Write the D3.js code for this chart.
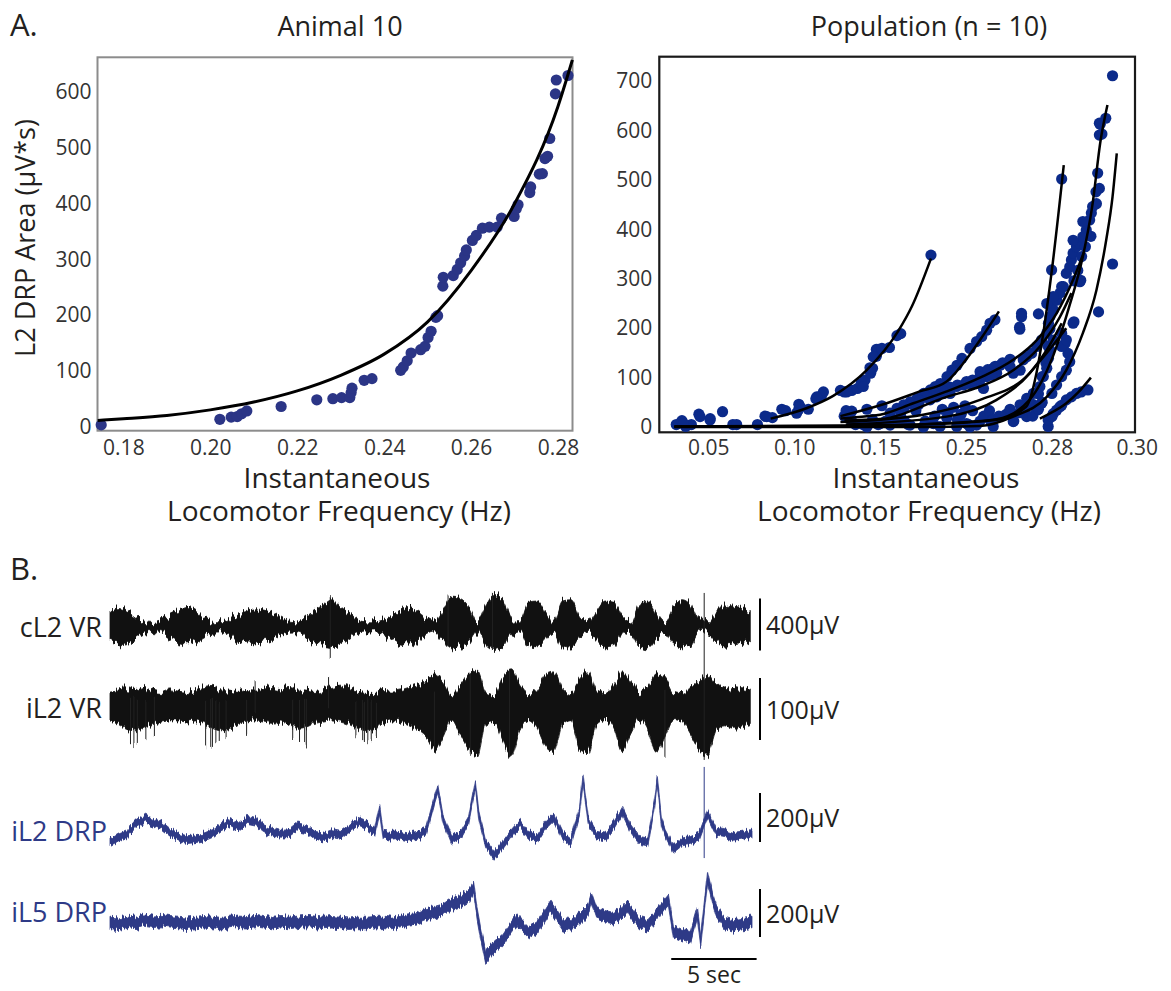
<!DOCTYPE html>
<html>
<head>
<meta charset="utf-8">
<script src="https://cdn.jsdelivr.net/npm/d3@7"></script>
<style>
body { margin: 0; background: #fff; }
svg { display: block; font-family: "Open Sans", "Noto Sans", sans-serif; }
</style>
</head>
<body>
<svg id="fig" width="1171" height="991">
  <defs>
    <filter id="noisyVr" x="-2%" y="-40%" width="104%" height="180%" color-interpolation-filters="sRGB">
      <feTurbulence type="fractalNoise" baseFrequency="0.5 0.015" numOctaves="2" seed="4" result="n"/>
      <feColorMatrix in="n" type="matrix" values="0 0 0 0 0.5  0 1 0 0 0  0 0 0 0 0  0 0 0 0 1" result="m"/>
      <feDisplacementMap in="SourceGraphic" in2="m" scale="16" xChannelSelector="R" yChannelSelector="G"/>
    </filter>
    <filter id="noisyDrp" x="-2%" y="-40%" width="104%" height="180%" color-interpolation-filters="sRGB">
      <feTurbulence type="fractalNoise" baseFrequency="0.6 0.02" numOctaves="2" seed="9" result="n"/>
      <feColorMatrix in="n" type="matrix" values="0 0 0 0 0.5  0 1 0 0 0  0 0 0 0 0  0 0 0 0 1" result="m"/>
      <feDisplacementMap in="SourceGraphic" in2="m" scale="10" xChannelSelector="R" yChannelSelector="G"/>
    </filter>
  </defs>
</svg>
<script>
// ---------- Panel A, left: Animal 10 ----------
const animal10Freq = [0.1749,0.2022,0.2048,0.2062,0.2072,0.2084,0.2163,0.2245,0.2282,0.2302,0.2321,0.2324,0.2326,0.2354,0.2372,0.2438,0.2444,0.2453,0.2462,0.2484,0.2494,0.2501,0.2508,0.2519,0.2523,0.2535,0.2536,0.2559,0.2568,0.2576,0.2585,0.2589,0.2603,0.2612,0.2626,0.2642,0.2660,0.2670,0.2699,0.2704,0.2708,0.2735,0.2737,0.2757,0.2764,0.2770,0.2776,0.2781,0.2794,0.2796,0.2823];
const animal10Area = [3,13,17,18,23,28,36,48,50,52,52,61,69,83,86,101,107,118,132,138,144,160,171,196,199,252,268,271,282,294,306,317,334,343,356,358,358,374,377,391,398,420,430,453,454,481,485,517,597,622,630];
const animal10FitFreq = [0.1741,0.18,0.19,0.20,0.21,0.22,0.23,0.24,0.25,0.26,0.27,0.28,0.2833];
const animal10FitArea = [11,14,20,30,44,64,92,130,188,280,400,575,658];
const leftXTicks = [0.18,0.20,0.22,0.24,0.26,0.28];
const leftYTicks = [0,100,200,300,400,500,600];

// ---------- Panel A, right: Population ----------
const popPts1 = [[0.083,22],[0.0873,19],[0.0928,36],[0.095,33],[0.1027,46],[0.1027,36],[0.1082,36],[0.1126,57],[0.1159,64],[0.117,71],[0.1269,74],[0.1291,71],[0.1335,74],[0.1368,78],[0.139,88],[0.1412,95],[0.1445,109],[0.1456,119],[0.1478,143],[0.1478,157],[0.1489,157],[0.1521,159],[0.1609,161],[0.1696,185],[0.174,189],[0.2092,348],[0.146,142],[0.1441,120],[0.1402,82],[0.1306,71],[0.1131,61],[0.1034,41],[0.1014,28],[0.084,21]];
const popFit1 = [[0.0863,17],[0.1071,38],[0.1227,63],[0.1422,115],[0.171,194],[0.1872,245],[0.2092,341]];
const popPts2 = [[0.0313,5],[0.0346,13],[0.0368,1],[0.0401,5],[0.0445,26],[0.0511,17],[0.0583,31],[0.0643,5],[0.0665,5],[0.0786,5],[0.051,14],[0.0452,21],[0.0355,7],[0.2733,46],[0.2753,67],[0.2766,102],[0.2779,130],[0.2786,164],[0.2793,199],[0.2799,254],[0.2799,318],[0.2823,502]];
const popFit2 = [[0.0302,1],[0.1071,2],[0.196,5],[0.2602,14],[0.271,41],[0.2746,109],[0.277,190],[0.28,318],[0.2828,530]];
const popPts3 = [[0.2834,311],[0.2842,324],[0.2846,338],[0.285,352],[0.2858,365],[0.2865,372],[0.2873,385],[0.2881,399],[0.2889,419],[0.2893,433],[0.2896,446],[0.2904,476],[0.2908,514],[0.2912,591],[0.2912,615],[0.2927,625],[0.2823,284],[0.2811,257],[0.2803,237],[0.2852,296],[0.2861,317],[0.287,345],[0.2879,365],[0.2892,386],[0.2905,452],[0.2912,483],[0.2918,593],[0.2914,613],[0.285,378],[0.2873,416],[0.2881,392]];
const popFit3 = [[0.0302,1],[0.15,3],[0.23,8],[0.2607,16],[0.2722,55],[0.2802,142],[0.2841,244],[0.2873,345],[0.2895,446],[0.2915,581],[0.2931,652]];
const popPts4 = [[0.2584,210],[0.2601,217],[0.2572,196],[0.2555,183],[0.2537,173],[0.2514,159],[0.2453,139],[0.2395,125],[0.2337,115],[0.2279,102],[0.2201,88],[0.2143,82],[0.2085,75],[0.2008,68],[0.193,58],[0.1852,51],[0.1775,45],[0.1697,38],[0.1335,32],[0.1423,36],[0.1521,43]];
const popFit4 = [[0.1269,22],[0.152,45],[0.196,72],[0.2275,92],[0.2468,129],[0.2549,176],[0.2615,234]];
const popPts5 = [[0.2082,55],[0.216,61],[0.2237,68],[0.2276,75],[0.2392,82],[0.247,85],[0.2502,92],[0.2514,88],[0.2526,92],[0.2537,88],[0.2572,102],[0.2584,115],[0.2595,119],[0.2619,125],[0.2642,129],[0.2654,122],[0.2665,109],[0.2689,115],[0.27,136],[0.2712,142],[0.2729,149],[0.2747,163],[0.2764,176],[0.2782,190],[0.2788,210],[0.2793,223],[0.2803,237],[0.2811,257],[0.2819,271],[0.2827,284]];
const popFit5 = [[0.1269,17],[0.1423,22],[0.15,25],[0.1886,48],[0.2275,72],[0.2549,100],[0.2665,136],[0.2747,176],[0.2811,230],[0.285,298],[0.2876,355]];
const popPts6 = [[0.1946,45],[0.1733,34],[0.1616,28],[0.2315,68],[0.2549,95],[0.2607,109],[0.2549,112],[0.2561,78],[0.2576,116],[0.2602,123],[0.2628,130],[0.2654,137],[0.2589,105],[0.2549,102],[0.2523,95],[0.2496,88],[0.24,85],[0.2312,81],[0.2224,74],[0.2136,67],[0.2048,60],[0.196,53],[0.1872,46],[0.1784,40]];
const popFit6 = [[0.1292,13],[0.15,16],[0.2275,61],[0.2549,82],[0.2665,115],[0.2758,163],[0.2819,223],[0.2846,271]];
const popPts7 = [[0.15,7],[0.1616,4],[0.1733,11],[0.1849,4],[0.2004,0],[0.2121,7],[0.2276,18],[0.2392,1],[0.2502,7],[0.2537,4],[0.2584,14],[0.2619,21],[0.2654,34],[0.2689,45],[0.2712,58],[0.2735,68],[0.2758,82],[0.277,102],[0.2782,119],[0.2788,139],[0.2793,156],[0.2803,176]];
const popFit7 = [[0.13,5],[0.2275,21],[0.2607,55],[0.2723,109],[0.2782,156],[0.2823,210]];
const popPts8 = [[0.2823,190],[0.2831,169],[0.2838,149],[0.2842,132],[0.2834,115],[0.2823,102],[0.2811,85],[0.28,68],[0.2764,48],[0.2747,34],[0.2712,21],[0.2665,11],[0.2595,1],[0.2514,0],[0.2198,1],[0.2866,294],[0.285,210],[0.291,233],[0.2943,330],[0.2943,711]];
const popFit8 = [[0.0302,0],[0.2,0],[0.2549,2],[0.2665,21],[0.2782,61],[0.2834,115],[0.2873,190],[0.2905,277],[0.2928,378],[0.2943,466],[0.2953,554]];
const popPts9 = [[0.2787,1],[0.2787,14],[0.28,21],[0.2811,34],[0.2823,44],[0.2834,55],[0.2846,61],[0.2858,68],[0.2869,71],[0.2885,75],[0.2819,41],[0.2803,27]];
const popFit9 = [[0.2758,17],[0.2782,24],[0.2834,48],[0.2862,70],[0.2892,100]];
const popPts10 = [[0.1291,22],[0.1302,33],[0.1335,12],[0.1357,5],[0.1401,5],[0.1423,0],[0.1456,15],[0.1489,5],[0.1565,12],[0.1652,15],[0.174,22],[0.1784,12],[0.1828,5],[0.1916,33],[0.2004,1],[0.2026,12],[0.2136,22],[0.2224,36],[0.229,29],[0.2356,40],[0.24,15],[0.2444,26],[0.2488,43],[0.2509,5],[0.2523,33],[0.2549,12],[0.2562,22],[0.2582,33],[0.2595,15],[0.2615,22],[0.2641,26],[0.2654,36],[0.2667,12],[0.2687,29],[0.2707,36],[0.2733,22],[0.2753,36],[0.2766,50],[0.2694,230],[0.2687,202],[0.2694,223],[0.2688,198],[0.2753,229],[0.2782,250],[0.2803,264],[0.2823,163],[0.2834,176],[0.2852,213],[0.2868,297]];
const popFit10 = [[0.1269,10],[0.2,25],[0.2549,55],[0.2707,100],[0.2782,150],[0.2834,200]];
const popXTicks = [0.05,0.10,0.15,0.25,0.28,0.30];
const popYTicks = [0,100,200,300,400,500,600,700];

// ---------- Panel B: recordings (µV, envelopes every 0.5 s) ----------
const traceTimes = d3.range(0, 37.6, 0.5);
const cl2VrUpper = [110,150,130,90,45,35,50,90,120,150,130,80,45,40,60,100,120,140,130,110,70,45,40,80,130,170,210,150,100,55,40,40,55,90,130,150,120,70,40,120,230,220,160,40,160,250,210,70,40,190,200,110,45,200,210,90,40,120,200,190,80,40,170,200,110,40,150,210,170,50,40,120,170,160,150,120];
const cl2VrLower = [-110,-130,-120,-80,-40,-35,-45,-90,-120,-130,-110,-70,-40,-38,-60,-110,-120,-130,-115,-100,-60,-40,-38,-80,-130,-140,-150,-130,-90,-50,-38,-38,-50,-90,-130,-140,-110,-60,-38,-100,-160,-150,-120,-38,-140,-180,-150,-60,-38,-150,-160,-100,-40,-160,-170,-80,-40,-100,-160,-150,-70,-40,-140,-160,-90,-40,-130,-160,-140,-45,-38,-100,-140,-130,-120,-100];
const il2VrUpper = [24,26,28,25,30,24,22,26,24,22,25,28,30,26,24,22,25,24,27,30,28,30,26,24,22,25,30,32,28,24,22,22,25,24,26,30,34,40,52,40,20,32,50,58,25,20,45,60,35,20,28,50,55,30,20,45,55,25,20,35,55,40,22,30,52,45,22,20,30,42,48,35,26,30,28,26];
const il2VrLower = [-24,-30,-38,-40,-34,-30,-26,-24,-24,-26,-24,-28,-36,-40,-38,-30,-26,-24,-26,-28,-26,-30,-36,-34,-28,-26,-24,-26,-30,-36,-40,-38,-28,-24,-26,-32,-38,-48,-70,-50,-22,-45,-70,-80,-30,-25,-55,-78,-40,-22,-35,-65,-75,-30,-22,-70,-75,-30,-22,-35,-72,-45,-22,-40,-75,-50,-22,-25,-45,-70,-78,-40,-32,-36,-34,-30];
const il2Drp = [[0,-20],[0.5,0],[1,14],[1.5,54],[2,75],[2.5,61],[3,48],[3.5,20],[4,0],[4.5,-11],[5,-7],[5.5,0],[6,14],[6.5,41],[7,61],[7.5,41],[8,68],[8.5,61],[9,34],[9.5,20],[10,11],[10.5,14],[11,41],[11.5,34],[12,7],[12.5,0],[13,14],[13.5,7],[14,34],[14.5,61],[15,48],[15.5,20],[15.8,116],[16,7],[16.5,3],[17,7],[17.5,0],[18,7],[18.5,20],[19,150],[19.2,197],[19.5,75],[20,-14],[20.5,7],[21,68],[21.4,218],[21.6,90],[22,-27],[22.5,-75],[23,-34],[23.5,14],[24,54],[24.5,7],[25,-7],[25.5,48],[26,82],[26.5,7],[27,-20],[27.5,109],[27.7,238],[28,68],[28.5,7],[29,0],[29.5,48],[30,109],[30.5,34],[31,-14],[31.5,-20],[31.9,140],[32.05,231],[32.3,60],[32.5,20],[33,-48],[33.5,-20],[34,-14],[34.5,0],[35,95],[35.5,20],[36,14],[36.5,3],[37,7],[37.5,14],[37.6,10]];
const il5Drp = [[0,0],[0.5,-3],[1,5],[1.5,0],[2,10],[2.5,5],[3,8],[3.5,3],[4,0],[4.5,-3],[5,0],[5.5,3],[6,0],[6.5,-5],[7,0],[7.5,5],[8,3],[8.5,8],[9,3],[9.5,0],[10,3],[10.5,0],[11,5],[11.5,8],[12,5],[12.5,0],[13,3],[13.5,0],[14,-3],[14.5,0],[15,0],[15.5,3],[16,5],[16.5,0],[17,8],[17.5,15],[18,20],[18.5,35],[19,45],[19.5,55],[20,80],[20.5,90],[21,110],[21.3,146],[21.5,40],[21.7,-40],[22,-140],[22.5,-100],[23,-70],[23.5,-15],[23.8,14],[24,-5],[24.5,-40],[25,-20],[25.5,35],[25.8,70],[26,50],[26.5,-5],[27,-10],[27.5,20],[28,55],[28.2,104],[28.5,40],[29,28],[29.5,20],[30,45],[30.3,70],[30.5,45],[31,0],[31.5,-10],[32,30],[32.5,80],[32.7,97],[33,-35],[33.5,-50],[34,-60],[34.4,42],[34.6,-75],[35,195],[35.3,100],[35.5,50],[36,0],[36.5,-10],[37,-5],[37.5,0],[37.6,0]];
const il2DrpNoise = 16;
const il5DrpNoise = 24;
// thin spikes outside the envelopes: [trace, time s, low µV, high µV]
const vrSpikes = [["cl2",12.9,-238,230],["cl2",19.8,-150,250],["cl2",22.4,-200,270],
    ["il2",1.2,-60,10],["il2",1.4,-63,10],["il2",1.6,-58,10],["il2",2.1,-55,10],["il2",2.6,-50,10],
    ["il2",5.6,-62,10],["il2",5.9,-66,10],["il2",6.0,-66,10],["il2",6.2,-60,10],["il2",6.4,-58,10],["il2",6.8,-55,10],
    ["il2",8.0,-45,10],["il2",8.5,-10,40],["il2",10.7,-50,10],["il2",11.1,-58,10],["il2",11.4,-63,10],["il2",11.5,-62,10],
    ["il2",12.8,-10,45],["il2",14.4,-52,10],["il2",14.8,-55,10],["il2",14.9,-58,10],["il2",15.1,-60,10],["il2",15.3,-55,10],["il2",15.6,-50,10],
    ["il2",19.0,-66,20],["il2",21.1,-82,55],["il2",23.4,-78,60],["il2",32.5,-82,20]];
const artifactTime = 34.8;
const artifactVr = [262, -87];   // top in cL2 µV, bottom in iL2 VR µV
const artifactDrp = [286, -86];  // iL2 DRP µV
const scaleBars = [["cl2",-180,220,"400µV"],["il2",-55,45,"100µV"],["il2drp",-20,180,"200µV"],["il5drp",-58,142,"200µV"]];
const timeBar = [32.87, 37.87];

// ---------- drawing ----------
const svg = d3.select("#fig");
const ink = "#231f20";
const traceBlue = "#2e3a87";

const styleAxis = function(g, size) {
    g.select(".domain").remove();
    g.selectAll("text").attr("font-size", size).attr("fill", "#333")
        .attr("font-family", "'Open Sans', sans-serif");
};

// left panel
const lx = d3.scaleLinear().domain([0.17405, 0.28333]).range([97.5, 572.5]);
const ly = d3.scaleLinear().domain([-7.4, 662.7]).range([430.7, 57.3]);

svg.append("rect")
    .attr("x", lx.range()[0]).attr("y", ly.range()[1])
    .attr("width", lx.range()[1] - lx.range()[0])
    .attr("height", ly.range()[0] - ly.range()[1])
    .attr("fill", "none").attr("stroke", "#8c8c8c").attr("stroke-width", 2);

svg.append("g").attr("transform", `translate(${lx.range()[0]},0)`)
    .call(d3.axisLeft(ly).tickValues(leftYTicks).tickSize(0).tickPadding(6))
    .call(styleAxis, 21);
svg.append("g").attr("transform", `translate(0,${ly.range()[0]})`)
    .call(d3.axisBottom(lx).tickValues(leftXTicks).tickFormat(d3.format(".2f")).tickSize(0).tickPadding(9))
    .call(styleAxis, 21);

svg.append("g").selectAll("circle")
    .data(animal10Freq)
    .join("circle")
    .attr("cx", d => lx(d))
    .attr("cy", (d, i) => ly(animal10Area[i]))
    .attr("r", 5.6)
    .attr("fill", "#2b3586");

const leftLine = d3.line()
    .x(d => lx(d))
    .y((d, i) => ly(animal10FitArea[i]))
    .curve(d3.curveMonotoneX);
svg.append("path").attr("d", leftLine(animal10FitFreq))
    .attr("fill", "none").attr("stroke", "#000").attr("stroke-width", 3);

// right panel
const px = d3.scaleLinear()
    .domain([0.0214, 0.05, 0.10, 0.15, 0.25, 0.28, 0.2996])
    .range([659.3, 708.3, 794.2, 880.1, 966, 1051.9, 1135]);
const py = d3.scaleLinear().domain([-10.7, 749.6]).range([432.3, 56.7]);

svg.append("rect")
    .attr("x", 659.3).attr("y", py.range()[1])
    .attr("width", 1135 - 659.3)
    .attr("height", py.range()[0] - py.range()[1])
    .attr("fill", "none").attr("stroke", "#1a1a1a").attr("stroke-width", 2.2);

svg.append("g").attr("transform", "translate(659.3,0)")
    .call(d3.axisLeft(py).tickValues(popYTicks).tickSize(0).tickPadding(7))
    .call(styleAxis, 21);
svg.append("g").attr("transform", `translate(0,${py.range()[0]})`)
    .call(d3.axisBottom(px).tickValues(popXTicks).tickFormat(d3.format(".2f")).tickSize(0).tickPadding(8))
    .call(styleAxis, 21);

const popPoints = [popPts1, popPts2, popPts3, popPts4, popPts5, popPts6, popPts7, popPts8, popPts9, popPts10];
const popFits = [popFit1, popFit2, popFit3, popFit4, popFit5, popFit6, popFit7, popFit8, popFit9, popFit10];

svg.append("g").selectAll("circle")
    .data(popPoints.flat())
    .join("circle")
    .attr("cx", d => px(d[0]))
    .attr("cy", d => py(Math.max(d[1], 0)))
    .attr("r", 5.6)
    .attr("fill", "#0b2a8a");

const popLine = d3.line().x(d => px(d[0])).y(d => py(d[1])).curve(d3.curveMonotoneX);
svg.append("g").selectAll("path")
    .data(popFits)
    .join("path")
    .attr("d", popLine)
    .attr("fill", "none").attr("stroke", "#000").attr("stroke-width", 2.5);

// panel A text
const addText = function(x, y, str, size, opts = {}) {
    return svg.append("text")
        .attr("x", x).attr("y", y)
        .attr("font-size", size)
        .attr("fill", opts.fill || ink)
        .attr("text-anchor", opts.anchor || "start")
        .text(str);
};
addText(10, 36, "A.", 31);
addText(340, 36, "Animal 10", 27, {anchor: "middle"});
addText(929, 36, "Population (n = 10)", 27, {anchor: "middle"});
svg.append("text")
    .attr("transform", "translate(35,238) rotate(-90)")
    .attr("text-anchor", "middle").attr("font-size", 27).attr("fill", ink)
    .text("L2 DRP Area (μV*s)");
addText(337, 488, "Instantaneous", 28, {anchor: "middle"});
addText(339, 521, "Locomotor Frequency (Hz)", 28, {anchor: "middle"});
addText(926, 488, "Instantaneous", 28, {anchor: "middle"});
addText(929, 521, "Locomotor Frequency (Hz)", 28, {anchor: "middle"});

// panel B
addText(10, 580, "B.", 31);

const tx = d3.scaleLinear().domain([0, 37.6]).range([110, 752]);
const traceY = {
    cl2: d3.scaleLinear().domain([-200, 200]).range([627 + 26, 627 - 26]),
    il2: d3.scaleLinear().domain([-50, 50]).range([706 + 31, 706 - 31]),
    il2drp: d3.scaleLinear().domain([-100, 100]).range([837 + 24.5, 837 - 24.5]),
    il5drp: d3.scaleLinear().domain([-100, 100]).range([923 + 24, 923 - 24]),
};

const vrArea = (upper, lower, y) => d3.area()
    .x((d, i) => tx(traceTimes[i]))
    .y0((d, i) => y(lower[i]))
    .y1((d, i) => y(upper[i]))
    .curve(d3.curveMonotoneX);

const vrGroup = svg.append("g").attr("filter", "url(#noisyVr)");
vrGroup.append("path")
    .attr("d", vrArea(cl2VrUpper, cl2VrLower, traceY.cl2)(traceTimes))
    .attr("fill", "#111").attr("stroke", "#111").attr("stroke-width", 0.8);
vrGroup.append("path")
    .attr("d", vrArea(il2VrUpper, il2VrLower, traceY.il2)(traceTimes))
    .attr("fill", "#111").attr("stroke", "#111").attr("stroke-width", 0.8);
vrGroup.selectAll("line")
    .data(vrSpikes)
    .join("line")
    .attr("x1", d => tx(d[1])).attr("x2", d => tx(d[1]))
    .attr("y1", d => traceY[d[0]](d[2])).attr("y2", d => traceY[d[0]](d[3]))
    .attr("stroke", "#222").attr("stroke-width", 1);

const drpArea = (y, noise) => d3.area()
    .x(d => tx(d[0]))
    .y0(d => y(d[1] - noise))
    .y1(d => y(d[1] + noise));

const drpGroup = svg.append("g").attr("filter", "url(#noisyDrp)");
drpGroup.append("path")
    .attr("d", drpArea(traceY.il2drp, il2DrpNoise)(il2Drp))
    .attr("fill", traceBlue).attr("stroke", traceBlue).attr("stroke-width", 0.8);
drpGroup.append("path")
    .attr("d", drpArea(traceY.il5drp, il5DrpNoise)(il5Drp))
    .attr("fill", traceBlue).attr("stroke", traceBlue).attr("stroke-width", 0.8);

// stimulus artifact
svg.append("line")
    .attr("x1", tx(artifactTime)).attr("x2", tx(artifactTime))
    .attr("y1", traceY.cl2(artifactVr[0])).attr("y2", traceY.il2(artifactVr[1]))
    .attr("stroke", "#222").attr("stroke-width", 1);
svg.append("line")
    .attr("x1", tx(artifactTime)).attr("x2", tx(artifactTime))
    .attr("y1", traceY.il2drp(artifactDrp[0])).attr("y2", traceY.il2drp(artifactDrp[1]))
    .attr("stroke", traceBlue).attr("stroke-width", 1);

// trace labels
addText(102, 628, "cL2 VR", 27, {anchor: "end"}).attr("dy", "0.35em");
addText(102, 709, "iL2 VR", 27, {anchor: "end"}).attr("dy", "0.35em");
addText(107, 832, "iL2 DRP", 27, {anchor: "end", fill: traceBlue}).attr("dy", "0.35em");
addText(107, 913, "iL5 DRP", 27, {anchor: "end", fill: traceBlue}).attr("dy", "0.35em");

// amplitude scale bars
const barX = 760;
scaleBars.forEach(b => {
    const y = traceY[b[0]];
    svg.append("line")
        .attr("x1", barX).attr("x2", barX)
        .attr("y1", y(b[1])).attr("y2", y(b[2]))
        .attr("stroke", "#000").attr("stroke-width", 2);
    addText(barX + 6, (y(b[1]) + y(b[2])) / 2, b[3], 25).attr("dy", "0.4em");
});

// time scale bar
svg.append("line")
    .attr("x1", tx(timeBar[0])).attr("x2", tx(timeBar[1]))
    .attr("y1", 959).attr("y2", 959)
    .attr("stroke", "#000").attr("stroke-width", 2);
addText((tx(timeBar[0]) + tx(timeBar[1])) / 2, 983, "5 sec", 23, {anchor: "middle"});
</script>
</body>
</html>
